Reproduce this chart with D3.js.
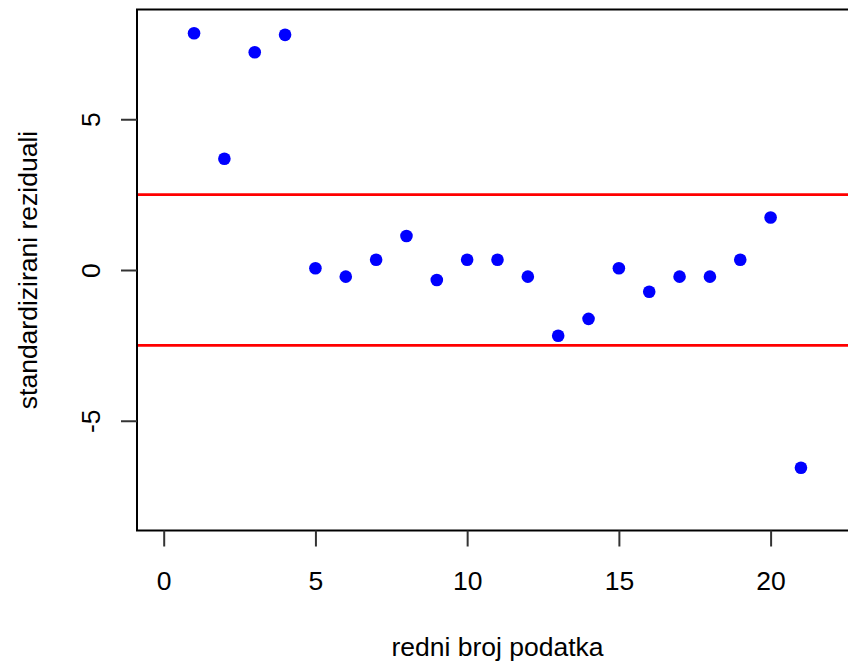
<!DOCTYPE html>
<html>
<head>
<meta charset="utf-8">
<script src="https://cdn.jsdelivr.net/npm/d3@7"></script>
<style>
  body { margin: 0; background: #fff; }
  svg { display: block; font-family: "Liberation Sans", Arial, sans-serif; }
</style>
</head>
<body>
<svg id="chart" width="848" height="665"></svg>
<script>
// redni broj podatka (index) and standardised residuals
const index = d3.range(1, 22);
const residuals = [7.85, 3.69, 7.22, 7.80, 0.06, -0.22, 0.34, 1.13, -0.33, 0.34,
                   0.34, -0.22, -2.18, -1.62, 0.06, -0.72, -0.22, -0.22, 0.34, 1.74, -6.56];
const limits = [2.5, -2.5];
const xTicks = [0, 5, 10, 15, 20];
const yTicks = [-5, 0, 5];
const xLim = [0, 22];
const yLim = [-8, 8];

(function () {
  const svg = d3.select('#chart');
  const box = { left: 137, right: 858, top: 9.5, bottom: 530.5 };

  // R style 4% padding around the limits
  const pad = (l) => { const d = (l[1] - l[0]) * 0.04; return [l[0] - d, l[1] + d]; };

  const x = d3.scaleLinear().domain(pad(xLim)).range([box.left, box.right]);
  const y = d3.scaleLinear().domain(pad(yLim)).range([box.bottom, box.top]);

  // plain hyphen for negatives, like R
  const fmt = d => String(d);

  // threshold lines
  svg.append('g')
    .selectAll('line')
    .data(limits)
    .join('line')
    .attr('x1', box.left)
    .attr('x2', box.right)
    .attr('y1', d => y(d))
    .attr('y2', d => y(d))
    .attr('stroke', '#ff0000')
    .attr('stroke-width', 2.6);

  // points
  svg.append('g')
    .selectAll('circle')
    .data(residuals)
    .join('circle')
    .attr('cx', (d, i) => x(index[i]))
    .attr('cy', d => y(d))
    .attr('r', 6.3)
    .attr('fill', '#0000ff');

  // box
  svg.append('rect')
    .attr('x', box.left)
    .attr('y', box.top)
    .attr('width', box.right - box.left)
    .attr('height', box.bottom - box.top)
    .attr('fill', 'none')
    .attr('stroke', '#000')
    .attr('stroke-width', 2);

  const xAxis = svg.append('g')
    .attr('transform', `translate(0,${box.bottom})`)
    .call(d3.axisBottom(x).tickValues(xTicks).tickSize(16).tickFormat(fmt));
  xAxis.select('.domain').remove();
  xAxis.selectAll('.tick line').attr('stroke', '#333').attr('stroke-width', 2);
  xAxis.selectAll('.tick text')
    .attr('font-size', 26.5)
    .attr('fill', '#000')
    .attr('dy', null)
    .attr('y', 590 - box.bottom)
    .attr('font-family', null);

  const yAxis = svg.append('g')
    .attr('transform', `translate(${box.left},0)`)
    .call(d3.axisLeft(y).tickValues(yTicks).tickSize(16).tickFormat(fmt));
  yAxis.select('.domain').remove();
  yAxis.selectAll('.tick line').attr('stroke', '#333').attr('stroke-width', 2);
  yAxis.selectAll('.tick text')
    .attr('font-size', 26.5)
    .attr('fill', '#000')
    .attr('font-family', null)
    .attr('x', null)
    .attr('dy', null)
    .attr('text-anchor', 'middle')
    .attr('transform', `translate(${100 - box.left},0) rotate(-90)`);

  svg.append('text')
    .attr('x', (box.left + box.right) / 2)
    .attr('y', 656)
    .attr('text-anchor', 'middle')
    .attr('font-size', 26.5)
    .text('redni broj podatka');

  svg.append('text')
    .attr('transform', `translate(37,${(box.top + box.bottom) / 2}) rotate(-90)`)
    .attr('text-anchor', 'middle')
    .attr('font-size', 26.5)
    .text('standardizirani reziduali');
})();
</script>
</body>
</html>
